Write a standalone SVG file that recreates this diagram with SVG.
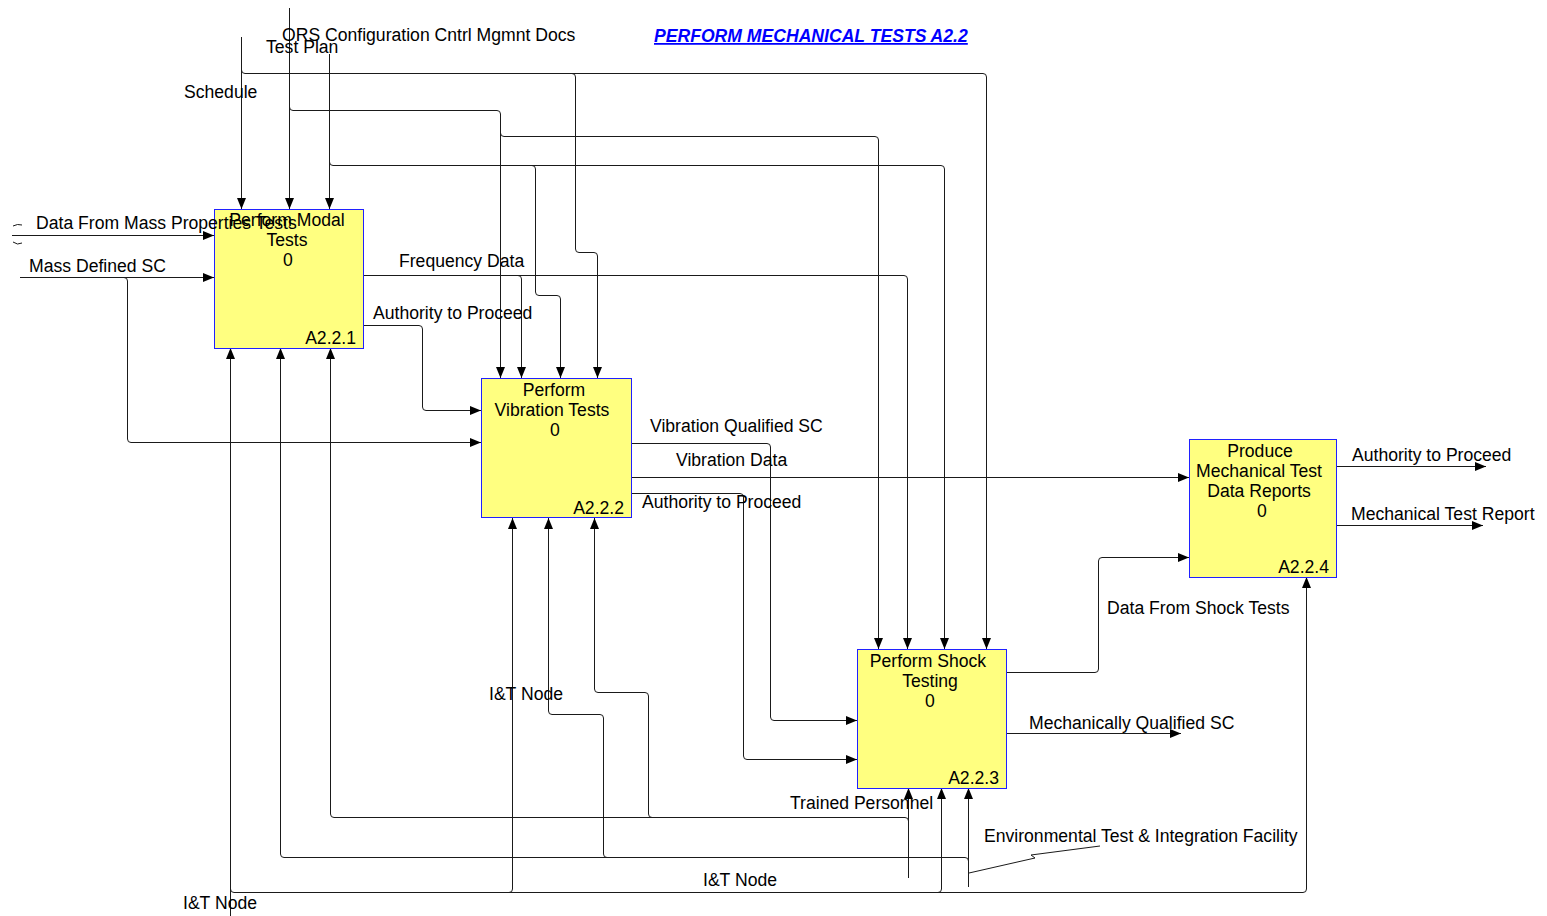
<svg xmlns="http://www.w3.org/2000/svg" width="1547" height="916" viewBox="0 0 1547 916">
<defs>
<marker id="arr" markerUnits="userSpaceOnUse" markerWidth="12" markerHeight="9" refX="11" refY="4.5" orient="auto">
<path d="M0,0 L11,4.5 L0,9 z" fill="#000"/>
</marker>
<style>
.c{fill:none;stroke:#1a1a1a;stroke-width:1}
.a{marker-end:url(#arr)}
.t{font-family:"Liberation Sans",Arial,sans-serif;font-size:17.6px;fill:#000}
.m{text-anchor:middle}
.e{text-anchor:end}
.box{fill:#ffff80;stroke:#2020ff;stroke-width:1}
.title{font-family:"Liberation Sans",Arial,sans-serif;font-size:17.6px;font-weight:bold;font-style:italic;fill:#0000ff;text-decoration:underline}
</style>
</defs>
<rect width="1547" height="916" fill="#fff"/>
<text class="title" x="654" y="42">PERFORM MECHANICAL TESTS A2.2</text>

<g id="connectors">
<!-- Schedule -->
<path class="c a" d="M241.5,37 V209"/>
<path class="c a" d="M241.5,70 Q241.5,73.5 245,73.5 H983 Q986.5,73.5 986.5,77 V649"/>
<path class="c a" d="M572,73.5 Q575.5,73.5 575.5,77 V249 Q575.5,252.5 579,252.5 H594 Q597.5,252.5 597.5,256 V378"/>
<!-- ORS -->
<path class="c a" d="M289.5,8 V209"/>
<path class="c a" d="M289.5,107 Q289.5,110.5 293,110.5 H497 Q500.5,110.5 500.5,114 V378"/>
<path class="c a" d="M500.5,133 Q500.5,136.5 504,136.5 H875 Q878.5,136.5 878.5,140 V649"/>
<!-- Test Plan -->
<path class="c a" d="M329.5,54 V209"/>
<path class="c a" d="M329.5,162 Q329.5,165.5 333,165.5 H941 Q944.5,165.5 944.5,169 V649"/>
<path class="c a" d="M532,165.5 Q535.5,165.5 535.5,169 V292 Q535.5,295.5 539,295.5 H557 Q560.5,295.5 560.5,299 V378"/>
<!-- Frequency Data -->
<path class="c a" d="M364,275.5 H904 Q907.5,275.5 907.5,279 V649"/>
<path class="c a" d="M518,275.5 Q521.5,275.5 521.5,279 V378"/>
<!-- Authority to Proceed (A2.2.1) -->
<path class="c a" d="M364,325.5 H419 Q422.5,325.5 422.5,329 V407 Q422.5,410.5 426,410.5 H481"/>
<!-- Mass Defined SC -->
<path class="c a" d="M20,277.5 H214"/>
<path class="c a" d="M124,277.5 Q127.5,277.5 127.5,281 V439 Q127.5,442.5 131,442.5 H481"/>
<!-- Data From Mass Properties Tests -->
<path class="c a" d="M12,235.5 H214"/>
<path class="c" d="M13,226 Q17.5,223.5 22,225"/>
<path class="c" d="M13,242 Q17.5,245.5 22,243"/>
<!-- Box2 outputs -->
<path class="c a" d="M631,443.5 H767 Q770.5,443.5 770.5,447 V717 Q770.5,720.5 774,720.5 H857"/>
<path class="c a" d="M631,477.5 H1189"/>
<path class="c a" d="M631,493.5 H740 Q743.5,493.5 743.5,497 V756 Q743.5,759.5 747,759.5 H857"/>
<!-- Box3 outputs -->
<path class="c a" d="M1006,672.5 H1095 Q1098.5,672.5 1098.5,669 V561 Q1098.5,557.5 1102,557.5 H1189"/>
<path class="c a" d="M1006,733.5 H1181"/>
<!-- Box4 outputs -->
<path class="c a" d="M1336,466.5 H1486"/>
<path class="c a" d="M1336,525.5 H1483"/>
<!-- I&T Node -->
<path class="c a" d="M230.5,916 V348"/>
<path class="c a" d="M230.5,889 Q230.5,892.5 234,892.5 H1303 Q1306.5,892.5 1306.5,889 V577"/>
<path class="c a" d="M509,892.5 Q512.5,892.5 512.5,889 V518"/>
<path class="c a" d="M938,892.5 Q941.5,892.5 941.5,889 V788"/>
<!-- Trained Personnel -->
<path class="c a" d="M908.5,878 V788"/>
<path class="c a" d="M908.5,821 Q908.5,817.5 905,817.5 H334 Q330.5,817.5 330.5,814 V348"/>
<path class="c a" d="M652,817.5 Q648.5,817.5 648.5,814 V696 Q648.5,692.5 645,692.5 H598 Q594.5,692.5 594.5,689 V518"/>
<!-- Environmental Test & Integration Facility -->
<path class="c a" d="M968.5,887 V788"/>
<path class="c a" d="M968.5,861 Q968.5,857.5 965,857.5 H284 Q280.5,857.5 280.5,854 V348"/>
<path class="c a" d="M607,857.5 Q603.5,857.5 603.5,854 V718 Q603.5,714.5 600,714.5 H552 Q548.5,714.5 548.5,711 V518"/>
<path class="c" d="M969,873 L1035,858 L1031,855 L1100,846"/>
</g>

<g id="A2.2.1">
<rect class="box" x="214.5" y="209.5" width="149" height="139"/>
<text class="t m" x="287" y="226">Perform Modal</text>
<text class="t m" x="287" y="246">Tests</text>
<text class="t m" x="288" y="266">0</text>
<text class="t e" x="356" y="344">A2.2.1</text>
</g>

<g id="A2.2.2">
<rect class="box" x="481.5" y="378.5" width="150" height="139"/>
<text class="t m" x="554" y="396">Perform</text>
<text class="t m" x="552" y="416">Vibration Tests</text>
<text class="t m" x="555" y="436">0</text>
<text class="t e" x="624" y="514">A2.2.2</text>
</g>

<g id="A2.2.3">
<rect class="box" x="857.5" y="649.5" width="149" height="139"/>
<text class="t m" x="928" y="667">Perform Shock</text>
<text class="t m" x="930" y="687">Testing</text>
<text class="t m" x="930" y="707">0</text>
<text class="t e" x="999" y="784">A2.2.3</text>
</g>

<g id="A2.2.4">
<rect class="box" x="1189.5" y="439.5" width="147" height="138"/>
<text class="t m" x="1260" y="457">Produce</text>
<text class="t m" x="1259" y="477">Mechanical Test</text>
<text class="t m" x="1259" y="497">Data Reports</text>
<text class="t m" x="1262" y="517">0</text>
<text class="t e" x="1329" y="573">A2.2.4</text>
</g>

<g id="labels">
<text class="t" x="282" y="41">ORS Configuration Cntrl Mgmnt Docs</text>
<text class="t" x="266" y="53">Test Plan</text>
<text class="t" x="184" y="98">Schedule</text>
<text class="t" x="36" y="229">Data From Mass Properties Tests</text>
<text class="t" x="29" y="272">Mass Defined SC</text>
<text class="t" x="399" y="267">Frequency Data</text>
<text class="t" x="373" y="319">Authority to Proceed</text>
<text class="t" x="650" y="432">Vibration Qualified SC</text>
<text class="t" x="676" y="466">Vibration Data</text>
<text class="t" x="642" y="508">Authority to Proceed</text>
<text class="t" x="1352" y="461">Authority to Proceed</text>
<text class="t" x="1351" y="520">Mechanical Test Report</text>
<text class="t" x="1107" y="614">Data From Shock Tests</text>
<text class="t" x="1029" y="729">Mechanically Qualified SC</text>
<text class="t" x="489" y="700">I&amp;T Node</text>
<text class="t" x="790" y="809">Trained Personnel</text>
<text class="t" x="984" y="842">Environmental Test &amp; Integration Facility</text>
<text class="t" x="703" y="886">I&amp;T Node</text>
<text class="t" x="183" y="909">I&amp;T Node</text>
</g>
</svg>
